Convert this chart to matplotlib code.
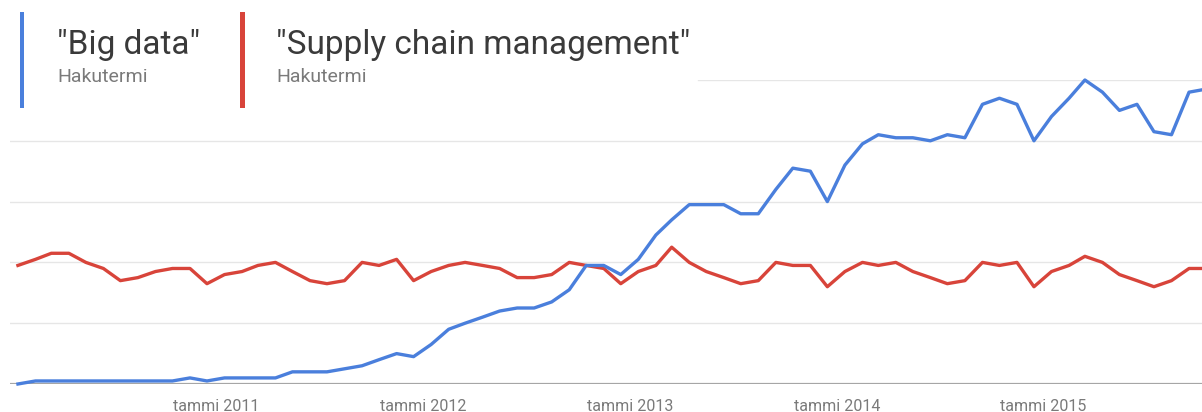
import matplotlib
matplotlib.use("Agg")
import matplotlib.pyplot as plt
import matplotlib.dates as mdates
from matplotlib.patches import Rectangle
import pandas as pd

# ---- data ----
start_month = "2010-01-01"
n_months = 70
big_data = [0, 1, 1, 1, 1, 1, 1, 1, 1, 1, 2, 1,
            2, 2, 2, 2, 4, 4, 4, 5, 6, 8, 10, 9,
            13, 18, 20, 22, 24, 25, 25, 27, 31, 39, 39, 36,
            41, 49, 54, 59, 59, 59, 56, 56, 64, 71, 70, 60,
            72, 79, 82, 81, 81, 80, 82, 81, 92, 94, 92, 80,
            88, 94, 100, 96, 90, 92, 83, 82, 96, 97]
supply_chain = [39, 41, 43, 43, 40, 38, 34, 35, 37, 38, 38, 33,
                36, 37, 39, 40, 37, 34, 33, 34, 40, 39, 41, 34,
                37, 39, 40, 39, 38, 35, 35, 36, 40, 39, 38, 33,
                37, 39, 45, 40, 37, 35, 33, 34, 40, 39, 39, 32,
                37, 40, 39, 40, 37, 35, 33, 34, 40, 39, 40, 32,
                37, 39, 42, 40, 36, 34, 32, 34, 38, 38]
series_names = ['"Big data"', '"Supply chain management"']
series_sub = ["Hakutermi", "Hakutermi"]
tick_years = [2011, 2012, 2013, 2014, 2015]
tick_prefix = "tammi"
grid_values = [20, 40, 60, 80, 100]

BLUE = "#4a7fdc"
RED = "#d8443a"

W, H = 1202, 412
fig = plt.figure(figsize=(W / 100, H / 100), dpi=100)
fig.patch.set_facecolor("white")

def fx(px):
    return px / W

def fy(py):
    return 1 - py / H

ax_left, ax_right, ax_top, ax_bot = 10, 1202, 80, 384
ax = fig.add_axes([fx(ax_left), fy(ax_bot), fx(ax_right - ax_left), (ax_bot - ax_top) / H])
ax.set_facecolor("white")

months = pd.date_range(start_month, periods=n_months, freq="MS")
dates = months + pd.Timedelta(days=14)

x0 = mdates.date2num(pd.Timestamp(start_month))
days_per_px = 30.44 / 17.23
ax.set_ylim(0, 100)

# gridlines
for g in grid_values:
    xmin = 0.0
    if g == 100:
        xmin = (698 - ax_left) / (ax_right - ax_left)
    ax.axhline(g, xmin=xmin, xmax=1, color="#e6e6e6", lw=1.0, zorder=1)
ax.axhline(0, color="#a6a6a6", lw=1.6, zorder=2)

ax.plot(dates, supply_chain, color=RED, lw=2.4, zorder=3, clip_on=False,
        solid_joinstyle="round")
ax.plot(dates, big_data, color=BLUE, lw=2.4, zorder=4, clip_on=False,
        solid_joinstyle="round")
ax.set_xlim(x0, x0 + (ax_right - ax_left) * days_per_px)

for s in ax.spines.values():
    s.set_visible(False)
ax.set_yticks([])
ticks = [pd.Timestamp(f"{y}-01-01") for y in tick_years]
ax.set_xticks(ticks)
ax.set_xticklabels([f"{tick_prefix} {y}" for y in tick_years],
                   fontsize=11.5, color="#7a7a7a", family=["Roboto", "DejaVu Sans"])
ax.tick_params(axis="x", length=0, pad=11)

# legend
bars = [(19.5, BLUE), (240, RED)]
texts_x = [57, 276]
for (bx, col), tx, name, sub in zip(bars, texts_x, series_names, series_sub):
    fig.patches.append(Rectangle((fx(bx), fy(108)), fx(4.5), (108 - 12) / H,
                                 transform=fig.transFigure, facecolor=col,
                                 edgecolor="none", zorder=5))
    fig.text(fx(tx), fy(54), name, fontsize=24, color="#3a3a3a",
             family=["Roboto", "DejaVu Sans"], va="baseline", ha="left")
    fig.text(fx(tx), fy(82), sub, fontsize=14, color="#7a7a7a",
             family=["Roboto", "DejaVu Sans"], va="baseline", ha="left")

fig.savefig("out.png", dpi=100, facecolor="white")
